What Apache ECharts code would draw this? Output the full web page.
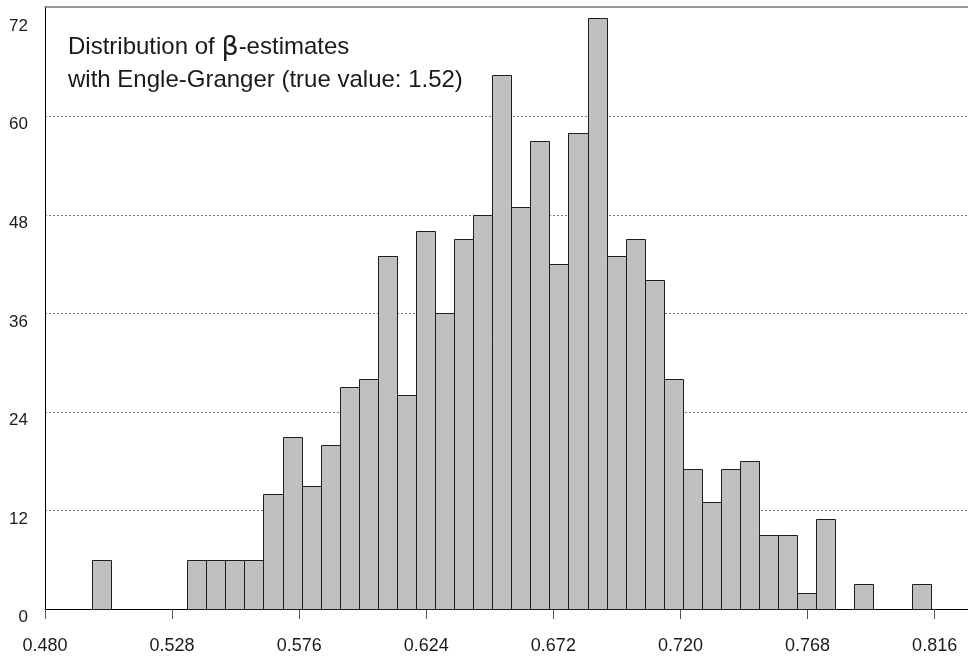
<!DOCTYPE html>
<html>
<head>
<meta charset="utf-8">
<script src="https://cdn.jsdelivr.net/npm/echarts@6/dist/echarts.min.js"></script>
<style>
html,body{margin:0;padding:0;background:#fff;}
#chart{width:968px;height:659px;}
</style>
</head>
<body>
<div id="chart"></div>
<script>
// Histogram bins: left edges (beta estimate), constant bin width, counts
const binWidth = 0.0072;
const binLeft = [0.4977, 0.5049, 0.5121, 0.5193, 0.5265, 0.5337, 0.5409, 0.5481, 0.5553, 0.5625,
                 0.5697, 0.5769, 0.5841, 0.5913, 0.5985, 0.6057, 0.6129, 0.6201, 0.6273, 0.6345,
                 0.6417, 0.6489, 0.6561, 0.6633, 0.6705, 0.6777, 0.6849, 0.6921, 0.6993, 0.7065,
                 0.7137, 0.7209, 0.7281, 0.7353, 0.7425, 0.7497, 0.7569, 0.7641, 0.7713, 0.7785,
                 0.7857, 0.7929, 0.8001, 0.8073];
const counts = [6, 0, 0, 0, 0, 6, 6, 6, 6, 14,
                21, 15, 20, 27, 28, 43, 26, 46, 36, 45,
                48, 65, 49, 57, 42, 58, 72, 43, 45, 40,
                28, 17, 13, 17, 18, 9, 9, 2, 11, 0,
                3, 0, 0, 3];
const xTicks = [0.480, 0.528, 0.576, 0.624, 0.672, 0.720, 0.768, 0.816];
const yTicks = [0, 12, 24, 36, 48, 60, 72];
const yGrid = [12, 24, 36, 48, 60];
const titleLine1 = ['Distribution of ', 'β', '-estimates'];
const titleLine2 = 'with Engle-Granger (true value: 1.52)';

const source = binLeft.map((l, i) => [l, +(l + binWidth).toFixed(4), counts[i]]);

const chart = echarts.init(document.getElementById('chart'), null, {renderer: 'canvas'});
const FONT = '"Liberation Sans", Arial, sans-serif';

chart.setOption({
  animation: false,
  backgroundColor: '#ffffff',
  title: {
    text: '{a|' + titleLine1[0] + '}{b|' + titleLine1[1] + '}{a|' + titleLine1[2] + '}\n{a|' + titleLine2 + '}',
    left: 68,
    top: 31,
    padding: 0,
    textStyle: {
      fontWeight: 'normal',
      rich: {
        a: {fontFamily: FONT, fontSize: 24, fontWeight: 'normal', lineHeight: 33, color: '#1a1a1a'},
        b: {fontFamily: '"DejaVu Sans", sans-serif', fontSize: 27, fontWeight: 'normal', lineHeight: 33, color: '#1a1a1a'}
      }
    }
  },
  grid: {left: 45, right: 0, top: 7, bottom: 50, containLabel: false},
  xAxis: [{
    type: 'value',
    min: 0.48,
    max: 0.8286,
    interval: 0.048,
    axisLine: {show: true, onZero: false, lineStyle: {color: '#000', width: 1}},
    axisTick: {show: true, length: 10, inside: false, customValues: xTicks, lineStyle: {color: '#555', width: 1}},
    axisLabel: {
      customValues: xTicks,
      margin: 28,
      fontFamily: FONT,
      fontSize: 18,
      color: '#1a1a1a',
      formatter: v => v.toFixed(3)
    },
    splitLine: {show: false}
  }, {
    type: 'value',
    position: 'top',
    min: 0.48,
    max: 0.8286,
    axisLine: {show: true, onZero: false, lineStyle: {color: '#777', width: 1.5}},
    axisTick: {show: false},
    axisLabel: {show: false},
    splitLine: {show: false}
  }],
  yAxis: {
    type: 'value',
    min: 0,
    max: 73.3,
    interval: 12,
    axisLine: {show: true, onZero: false, lineStyle: {color: '#000', width: 1}},
    axisTick: {show: false, customValues: yGrid},
    axisLabel: {
      customValues: yTicks,
      margin: 17,
      fontFamily: FONT,
      fontSize: 17,
      color: '#1a1a1a',
      align: 'right',
      verticalAlign: 'top'
    },
    splitLine: {show: true, lineStyle: {color: '#777', type: [2, 2], width: 1}}
  },
  dataset: {source: source},
  series: [{
    type: 'custom',
    xAxisIndex: 0,
    encode: {x: [0, 1], y: 2},
    renderItem: function (params, api) {
      const y = api.value(2);
      if (!y) return null;
      const p0 = api.coord([api.value(0), y]);
      const p1 = api.coord([api.value(1), 0]);
      const x0 = Math.round(p0[0]) + 0.5;
      const x1 = Math.round(p1[0]) + 0.5;
      const y0 = Math.round(p0[1]) + 0.5;
      const y1 = Math.round(p1[1]) + 0.5;
      return {
        type: 'rect',
        shape: {x: x0, y: y0, width: x1 - x0, height: y1 - y0},
        style: {fill: '#c0c0c0', stroke: '#1e1e1e', lineWidth: 1}
      };
    }
  }]
});
</script>
</body>
</html>
